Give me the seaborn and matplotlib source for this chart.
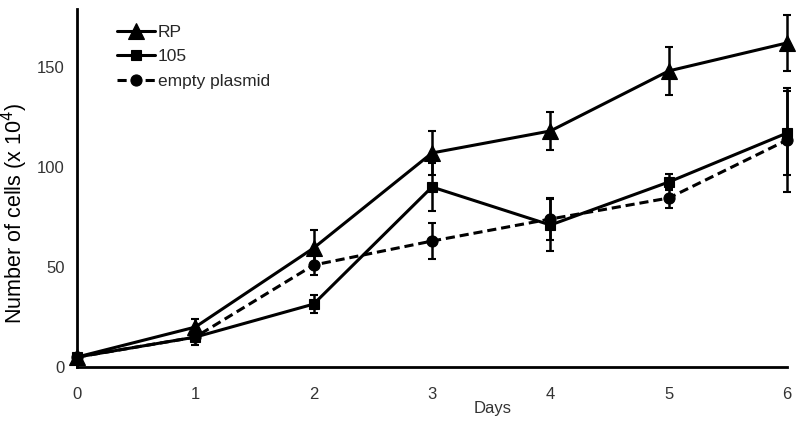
import numpy as np
import pandas as pd
import matplotlib
matplotlib.use("Agg")
import matplotlib.pyplot as plt
import seaborn as sns

days = [0, 1, 2, 3, 4, 5, 6]

rp_mean = [5, 20, 59.5, 107, 118, 148, 162]
rp_err = [1, 4, 9, 11, 9.5, 12, 14]

c105_mean = [5, 15, 31.5, 90, 71, 92.5, 117]
c105_err = [1, 2, 4.5, 12, 13, 4, 21]

empty_mean = [5, 15, 51, 63, 74, 84.5, 113.5]
empty_err = [1, 4, 5, 9, 10.5, 5, 26]

series_names = ["RP", "105", "empty plasmid"]

sns.set_style("white")
plt.rcParams["font.family"] = ["Liberation Sans", "DejaVu Sans"]

df = pd.DataFrame({
    "day": days * 3,
    "cells": rp_mean + c105_mean + empty_mean,
    "err": rp_err + c105_err + empty_err,
    "group": [series_names[0]] * 7 + [series_names[1]] * 7 + [series_names[2]] * 7,
})

fig, ax = plt.subplots(figsize=(8, 4.22), dpi=100)
fig.subplots_adjust(left=0.096, right=0.984, bottom=0.130, top=0.979)

styles = {
    "RP": dict(marker="^", ms=11, ls="-"),
    "105": dict(marker="s", ms=7, ls="-"),
    "empty plasmid": dict(marker="o", ms=8, ls=(0, (3, 1.6))),
}

for name in series_names:
    sub = df[df["group"] == name]
    st = styles[name]
    ax.errorbar(sub["day"], sub["cells"], yerr=sub["err"], fmt="none",
                ecolor="black", elinewidth=1.8, capsize=3, capthick=1.5,
                clip_on=False, zorder=2)
    sns.lineplot(data=sub, x="day", y="cells", ax=ax, color="black",
                 linewidth=2.2, linestyle=st["ls"], marker=st["marker"],
                 markersize=st["ms"], markeredgecolor="black",
                 markeredgewidth=0.8, label=name, clip_on=False, zorder=3)

ax.set_xlim(0, 6)
ax.set_ylim(0, 179)
ax.set_xticks(days)
ax.set_yticks([0, 50, 100, 150])
ax.tick_params(axis="both", direction="out", length=5, width=1.5,
               labelsize=12, labelcolor="#333333", color="black")
ax.tick_params(axis="x", pad=9)

for side in ["top", "right"]:
    ax.spines[side].set_visible(False)
for side in ["left", "bottom"]:
    ax.spines[side].set_linewidth(2)
    ax.spines[side].set_color("black")

ax.set_xlabel("Days", fontsize=12, color="#333333")
ax.xaxis.set_label_coords(0.585, -0.095)
ax.set_ylabel("Number of cells (x 10$^4$)", fontsize=15.5, color="black")
ax.yaxis.set_label_coords(-0.066, 0.43)

ax.legend(loc="upper left", bbox_to_anchor=(0.035, 1.0), frameon=False,
          fontsize=12.5, handlelength=2.2, handletextpad=0.15, labelspacing=0.55)

fig.savefig("out.png", dpi=100)
